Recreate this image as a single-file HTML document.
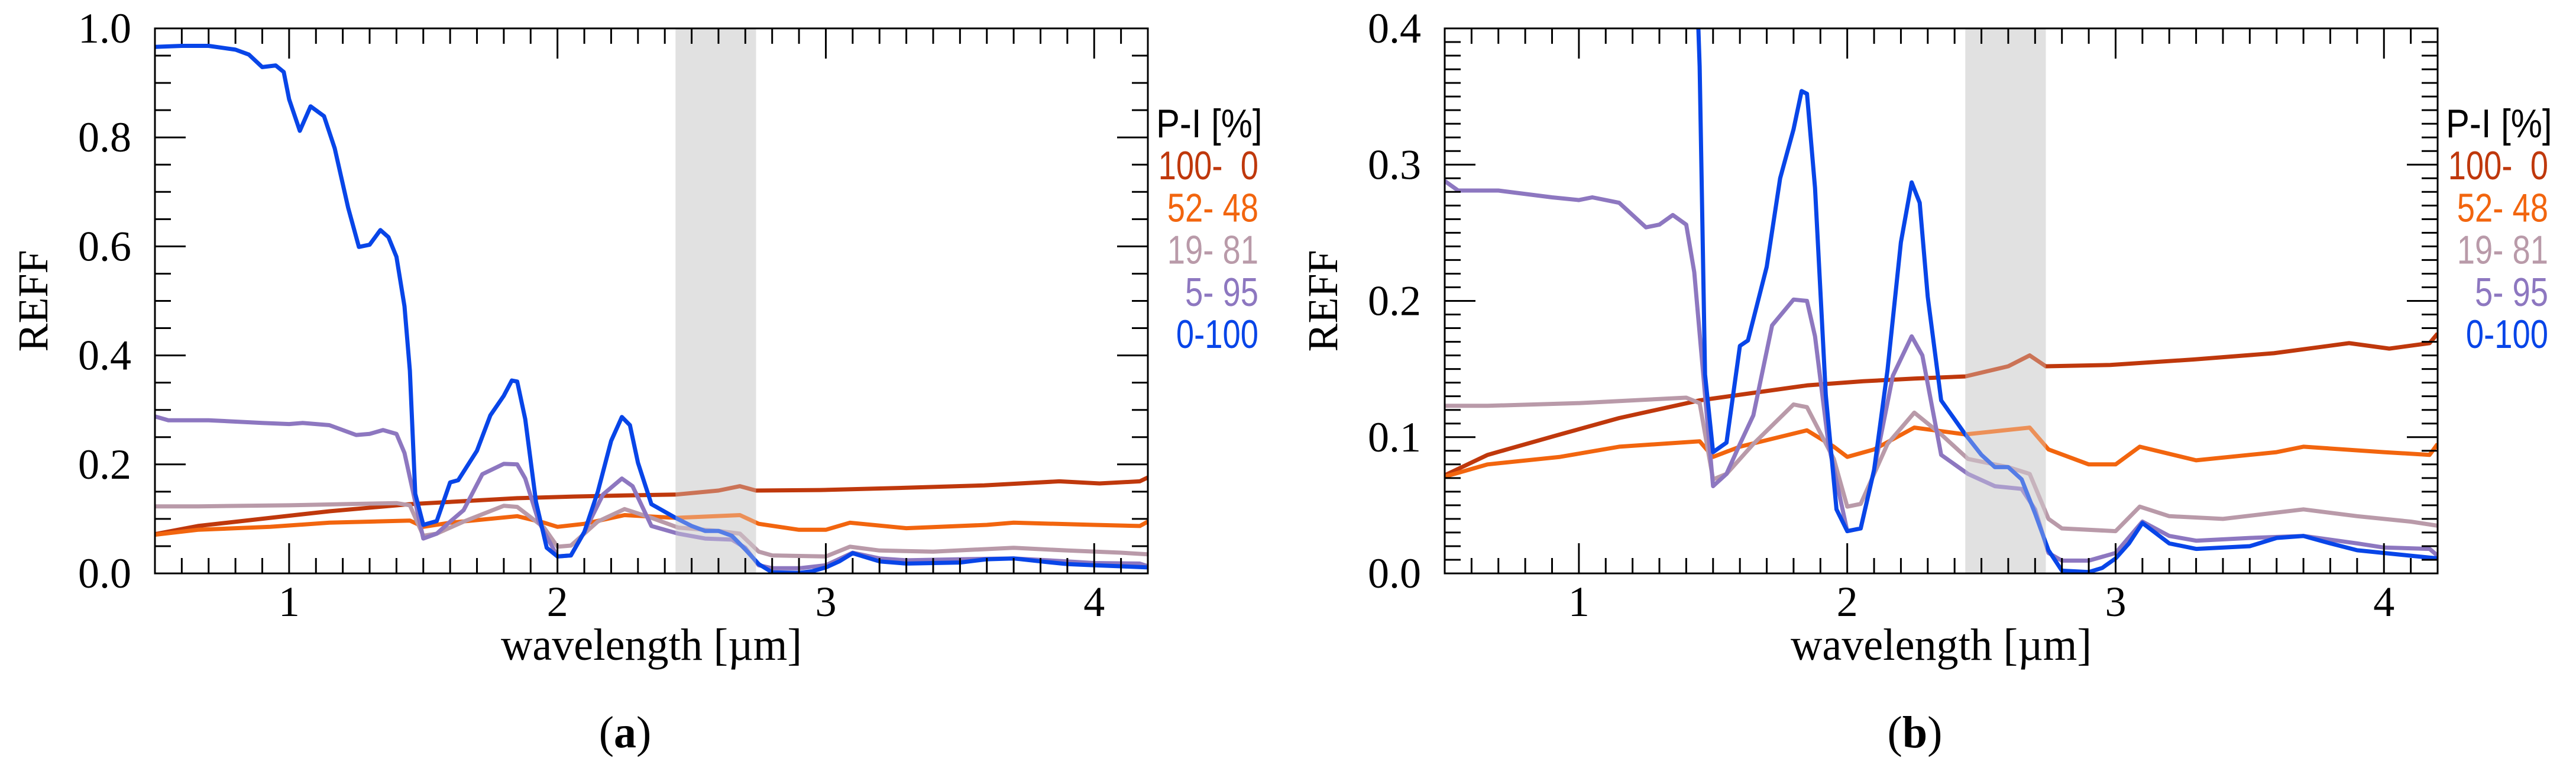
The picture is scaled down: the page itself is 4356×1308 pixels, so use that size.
<!DOCTYPE html>
<html><head><meta charset="utf-8"><style>
html,body{margin:0;padding:0;background:#fff;}
svg{display:block;}
text{white-space:pre;}
</style></head><body>
<svg id="fig" width="4356" height="1308" viewBox="0 0 4356 1308" xmlns="http://www.w3.org/2000/svg"></svg>
<script>
// ---- data ----
const seriesNames = ["100-  0", " 52- 48", " 19- 81", "  5- 95", "  0-100"];
const seriesColors = ["#bf380c", "#f2650e", "#b99aa9", "#8d77c0", "#0845e8"];

const redWl = [0.5,0.66,0.93,1.15,1.45,1.85,2.06,2.25,2.44,2.6,2.68,2.74,2.98,3.29,3.59,3.87,4.02,4.17,4.2];
const redVal = [0.072,0.087,0.102,0.114,0.127,0.138,0.141,0.143,0.1446,0.152,0.16,0.152,0.153,0.157,0.1616,0.169,0.165,0.169,0.176];

const orangeWl = [0.5,0.66,0.93,1.15,1.45,1.5,1.6,1.85,1.95,2.0,2.1,2.25,2.44,2.68,2.75,2.9,3.0,3.09,3.3,3.6,3.7,4.0,4.17,4.2];
const orangeVal = [0.071,0.080,0.0855,0.093,0.097,0.0855,0.093,0.105,0.093,0.0855,0.091,0.107,0.102,0.107,0.091,0.080,0.080,0.093,0.083,0.089,0.093,0.089,0.087,0.095];

const pinkWl = [0.5,0.66,1.0,1.2,1.4,1.45,1.5,1.55,1.65,1.8,1.85,1.95,2.0,2.05,2.15,2.25,2.35,2.45,2.6,2.68,2.75,2.8,3.0,3.09,3.2,3.4,3.7,3.9,4.1,4.2];
const pinkVal = [0.123,0.123,0.125,0.127,0.129,0.125,0.069,0.073,0.095,0.124,0.122,0.084,0.049,0.051,0.095,0.118,0.102,0.084,0.078,0.073,0.040,0.033,0.031,0.049,0.042,0.040,0.047,0.042,0.038,0.035];

const purpleWl = [0.5,0.55,0.7,0.9,1.0,1.05,1.15,1.25,1.3,1.35,1.4,1.43,1.47,1.5,1.55,1.6,1.65,1.72,1.8,1.85,1.88,1.93,2.0,2.05,2.1,2.17,2.24,2.28,2.35,2.45,2.55,2.65,2.7,2.75,2.8,2.9,3.0,3.1,3.2,3.3,3.5,3.7,3.9,4.0,4.17,4.2];
const purpleVal = [0.288,0.281,0.281,0.276,0.274,0.276,0.272,0.254,0.256,0.263,0.256,0.221,0.131,0.064,0.073,0.095,0.116,0.182,0.201,0.200,0.174,0.095,0.031,0.033,0.076,0.145,0.174,0.160,0.087,0.073,0.064,0.062,0.047,0.015,0.0094,0.0094,0.015,0.038,0.0275,0.024,0.026,0.0275,0.022,0.019,0.018,0.013];

const blueWl = [0.5,0.6,0.7,0.8,0.85,0.9,0.95,0.98,1.0,1.04,1.08,1.13,1.17,1.22,1.26,1.3,1.34,1.37,1.4,1.43,1.45,1.47,1.5,1.55,1.6,1.63,1.7,1.75,1.8,1.83,1.85,1.88,1.92,1.96,2.0,2.05,2.1,2.15,2.2,2.24,2.27,2.3,2.35,2.44,2.5,2.55,2.6,2.65,2.7,2.75,2.8,2.9,2.95,3.0,3.05,3.1,3.2,3.3,3.5,3.6,3.7,3.8,3.9,4.0,4.1,4.2];
const blueVal = [0.966,0.968,0.968,0.961,0.952,0.929,0.932,0.920,0.870,0.812,0.857,0.839,0.780,0.671,0.599,0.603,0.630,0.617,0.581,0.490,0.372,0.146,0.089,0.096,0.167,0.171,0.225,0.290,0.326,0.354,0.352,0.283,0.131,0.047,0.031,0.033,0.076,0.149,0.243,0.287,0.272,0.203,0.127,0.102,0.087,0.078,0.078,0.069,0.044,0.017,0.002,0.001,0.004,0.011,0.022,0.037,0.022,0.018,0.020,0.026,0.0275,0.022,0.017,0.015,0.013,0.011];

const xTickLabels = ["1","2","3","4"];
const yTickLabelsA = ["0.0","0.2","0.4","0.6","0.8","1.0"];
const yTickLabelsB = ["0.0","0.1","0.2","0.3","0.4"];
const bandRange = [2.44, 2.74];

const allWl = [redWl, orangeWl, pinkWl, purpleWl, blueWl];
const allVal = [redVal, orangeVal, pinkVal, purpleVal, blueVal];

// ---- drawing ----
const NS = "http://www.w3.org/2000/svg";
const svg = document.getElementById("fig");
function mk(tag, attrs, parent) {
  const e = document.createElementNS(NS, tag);
  for (const k in attrs) e.setAttribute(k, attrs[k]);
  (parent || svg).appendChild(e);
  return e;
}

function panel(ox, yMax, yMajor, yMinor, yLabels, letter, id) {
  const L = ox, R = ox + 1679, T = 48, B = 969;
  const xs = w => L + (w - 0.5) / 3.7 * (R - L);
  const ys = v => B - v / yMax * (B - T);
  const g = mk("g", {});
  
  
  const cp = mk("clipPath", {id: "clip" + id}, g);
  mk("rect", {x: L, y: T, width: R - L, height: B - T}, cp);

  const band = mk("rect", {x: xs(bandRange[0]), y: T, width: xs(bandRange[1]) - xs(bandRange[0]), height: B - T, fill: "#e1e1e1"}, g);
  
  

  const lg = mk("g", {"clip-path": "url(#clip" + id + ")"}, g);
  for (let s = 0; s < 5; s++) {
    const pts = allWl[s].map((w, i) => xs(w).toFixed(1) + "," + ys(allVal[s][i]).toFixed(1)).join(" ");
    const pl = mk("polyline", {points: pts, fill: "none", stroke: seriesColors[s], "stroke-width": 7, "stroke-linejoin": "round"}, lg);
    
    
  }
  mk("rect", {x: xs(bandRange[0]), y: T, width: xs(bandRange[1]) - xs(bandRange[0]), height: B - T, fill: "#e1e1e1", opacity: 0.35}, g);

  const fr = mk("rect", {x: L, y: T, width: R - L, height: B - T, fill: "none", stroke: "#000", "stroke-width": 3}, g);
  
  

  for (let k = 5; k <= 42; k++) {
    const w = k / 10, x = xs(w);
    const major = (k % 10 === 0);
    const len = major ? 51 : 26;
    mk("line", {x1: x, y1: B, x2: x, y2: B - len, stroke: "#000", "stroke-width": 3}, g);
    mk("line", {x1: x, y1: T, x2: x, y2: T + len, stroke: "#000", "stroke-width": 3}, g);
  }
  xTickLabels.forEach(lab => {
    const t = mk("text", {x: xs(+lab), y: 1041, "text-anchor": "middle", "font-family": "Liberation Serif, serif", "font-size": 72}, g);
    t.textContent = lab;
    
    
  });
  const nMinor = Math.round(yMax / yMinor);
  for (let k = 0; k <= nMinor; k++) {
    const v = k * yMinor, y = ys(v);
    const major = Math.abs(v / yMajor - Math.round(v / yMajor)) < 1e-6;
    const len = major ? 52 : 27;
    mk("line", {x1: L, y1: y, x2: L + len, y2: y, stroke: "#000", "stroke-width": 3}, g);
    mk("line", {x1: R, y1: y, x2: R - len, y2: y, stroke: "#000", "stroke-width": 3}, g);
  }
  yLabels.forEach(lab => {
    const t = mk("text", {x: L - 40, y: ys(+lab) + 24, "text-anchor": "end", "font-family": "Liberation Serif, serif", "font-size": 72}, g);
    t.textContent = lab;
    
    
  });
  const yt = mk("text", {x: 0, y: 0, transform: "translate(" + (L - 182) + "," + ((T + B) / 2) + ") rotate(-90)", "text-anchor": "middle", "font-family": "Liberation Serif, serif", "font-size": 72}, g);
  yt.textContent = "REFF";
  
  
  const xt = mk("text", {x: (L + R) / 2, y: 1115, "text-anchor": "middle", "font-family": "Liberation Serif, serif", "font-size": 76, textLength: 509, lengthAdjust: "spacingAndGlyphs"}, g);
  xt.textContent = "wavelength [µm]";
  
  
  const cap = mk("text", {x: L + 795, y: 1263, "text-anchor": "middle", "font-family": "Liberation Serif, serif", "font-size": 76}, g);
  cap.innerHTML = '(<tspan font-weight="bold">' + letter + '</tspan>)';
  
  
  // legend (condensed)
  const lgx = R + 187;
  const head = mk("text", {x: 0, y: 0, transform: "translate(" + (R + 14) + ",232) scale(0.88,1)", "font-family": "Liberation Sans, sans-serif", "font-size": 68, fill: "#000"}, g);
  head.textContent = "P-I [%]";
  
  
  seriesNames.forEach((n, i) => {
    const t = mk("text", {x: 0, y: 0, transform: "translate(" + lgx + "," + (303 + i * 71.3) + ") scale(0.8,1)", "text-anchor": "end", "font-family": "Liberation Sans, sans-serif", "font-size": 68, fill: seriesColors[i]}, g);
    t.textContent = n;
    
    
  });
}

panel(262, 1.0, 0.2, 0.05, yTickLabelsA, "a", "a");
panel(2443, 0.4, 0.1, 0.01, yTickLabelsB, "b", "b");
</script>
</body></html>
